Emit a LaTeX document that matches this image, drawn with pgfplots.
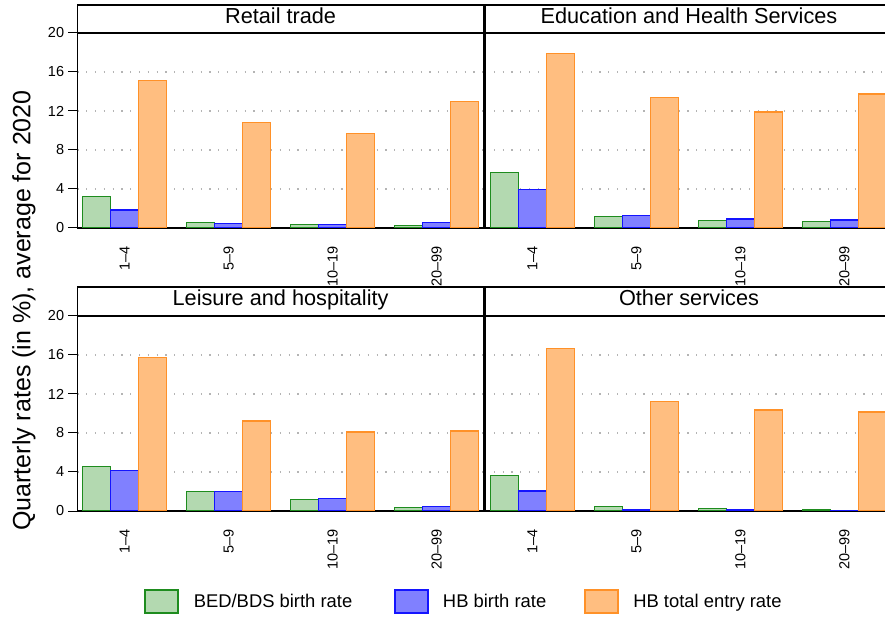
\documentclass[border=0pt]{standalone}
\usepackage{fontspec}
\setmainfont{Liberation Sans}
\usepackage{pgfplots}
\pgfplotsset{compat=1.18}
\usepackage{pgfplotstable}

\definecolor{gfill}{RGB}{179,217,176}
\definecolor{gline}{RGB}{30,140,30}
\definecolor{bfill}{RGB}{128,128,255}
\definecolor{bline}{RGB}{20,20,255}
\definecolor{ofill}{RGB}{255,190,128}
\definecolor{oline}{RGB}{255,145,40}
\definecolor{gridc}{RGB}{180,180,180}

\pgfplotstableread{
x bed hb tot
0 3.25 1.85 15.15
1 0.58 0.48 10.84
2 0.38 0.38 9.71
3 0.27 0.58 12.96
}\retail
\pgfplotstableread{
x bed hb tot
0 5.71 3.93 17.91
1 1.20 1.30 13.40
2 0.79 0.92 11.90
3 0.68 0.82 13.74
}\educ
\pgfplotstableread{
x bed hb tot
0 4.60 4.12 15.78
1 1.99 1.96 9.23
2 1.17 1.30 8.10
3 0.38 0.48 8.20
}\leisure
\pgfplotstableread{
x bed hb tot
0 3.64 2.06 16.64
1 0.48 0.10 11.25
2 0.27 0.10 10.36
3 0.17 0.07 10.15
}\other

\newcommand{\tickfont}{\fontsize{14.5bp}{16bp}\selectfont}
\newcommand{\titlefont}{\fontsize{21.7bp}{24bp}\selectfont}

\pgfplotsset{
  panel/.style={
    scale only axis, width=406.7bp, height=195bp,
    anchor=south west,
    ybar=0pt, bar width=28bp,
    xmin=-0.456, xmax=3.456, ymin=0, ymax=20,
    xtick={0,1,2,3},
    xticklabels={1\textendash 4,5\textendash 9,10\textendash 19,20\textendash 99},
    ytick={0,4,8,12,16,20},
    ymajorgrids,
    grid style={gridc, line width=1.1bp, dash pattern=on 1.2bp off 7.6bp},
    axis line style={line width=1.3bp, black},
    xtick style={draw=none},
    xticklabel style={rotate=90, anchor=east, font=\tickfont, inner sep=0pt},
    xticklabel shift=9bp,
    ytick pos=left, tick align=outside, major tick length=9bp,
    ytick style={line width=1bp, black},
    yticklabel style={font=\tickfont, inner sep=0pt},
    yticklabel shift=4bp,
    /pgf/number format/assume math mode=true,
    every axis plot/.append style={line width=1.2bp},
  },
  rightpanel/.style={
    panel,
    yticklabels={},
    ytick style={draw=none},
  },
}

\begin{document}
\begin{tikzpicture}
% top-left
\begin{axis}[panel, at={(77.3bp,391bp)}]
\addplot[fill=gfill, draw=gline] table[x=x,y=bed]{\retail};
\addplot[fill=bfill, draw=bline] table[x=x,y=hb]{\retail};
\addplot[fill=ofill, draw=oline] table[x=x,y=tot]{\retail};
\end{axis}
% top-right
\begin{axis}[rightpanel, at={(485bp,391bp)}]
\addplot[fill=gfill, draw=gline] table[x=x,y=bed]{\educ};
\addplot[fill=bfill, draw=bline] table[x=x,y=hb]{\educ};
\addplot[fill=ofill, draw=oline] table[x=x,y=tot]{\educ};
\end{axis}
% bottom-left
\begin{axis}[panel, at={(77.3bp,108bp)},
  legend columns=3,
  legend cell align=left,
  legend style={at={(0.1647,-0.4641)}, anchor=west, draw=none, fill=none,
    inner sep=0pt, column sep=0pt,
    font=\fontsize{18.4bp}{20bp}\selectfont,
    nodes={inner sep=0pt}},
  legend image code/.code={\draw[#1,line width=1.3bp] (0bp,-11.35bp) rectangle (33bp,11.35bp);},
]
\addplot[fill=gfill, draw=gline] table[x=x,y=bed]{\leisure};
\addlegendentry{\makebox[215.6bp][l]{\hspace*{15bp}BED/BDS birth rate}}
\addplot[fill=bfill, draw=bline] table[x=x,y=hb]{\leisure};
\addlegendentry{\makebox[155.6bp][l]{\hspace*{14.3bp}HB birth rate}}
\addplot[fill=ofill, draw=oline] table[x=x,y=tot]{\leisure};
\addlegendentry{\hspace*{14.7bp}HB total entry rate}
\end{axis}
% bottom-right
\begin{axis}[rightpanel, at={(485bp,108bp)}]
\addplot[fill=gfill, draw=gline] table[x=x,y=bed]{\other};
\addplot[fill=bfill, draw=bline] table[x=x,y=hb]{\other};
\addplot[fill=ofill, draw=oline] table[x=x,y=tot]{\other};
\end{axis}

% title boxes
\draw[line width=1.3bp] (77.3bp,586bp) rectangle (484bp,614bp);
\draw[line width=1.3bp] (485bp,586bp) rectangle (892bp,614bp);
\draw[line width=1.3bp] (77.3bp,303bp) rectangle (484bp,332bp);
\draw[line width=1.3bp] (485bp,303bp) rectangle (892bp,332bp);
\node[anchor=base, inner sep=0pt, font=\titlefont] at (280.6bp,595.7bp) {Retail trade};
\node[anchor=base, inner sep=0pt, font=\titlefont] at (689bp,595.7bp) {Education and Health Services};
\node[anchor=base, inner sep=0pt, font=\titlefont] at (280.6bp,313bp) {Leisure and hospitality};
\node[anchor=base, inner sep=0pt, font=\titlefont] at (689bp,313bp) {Other services};

% y label
\node[rotate=90, inner sep=0pt, font=\fontsize{25bp}{28bp}\selectfont] at (24bp,308.5bp)
  {Quarterly rates (in \%), average for 2020};

\pgfresetboundingbox
\useasboundingbox (0bp,0bp) rectangle (885bp,619bp);
\end{tikzpicture}
\end{document}
